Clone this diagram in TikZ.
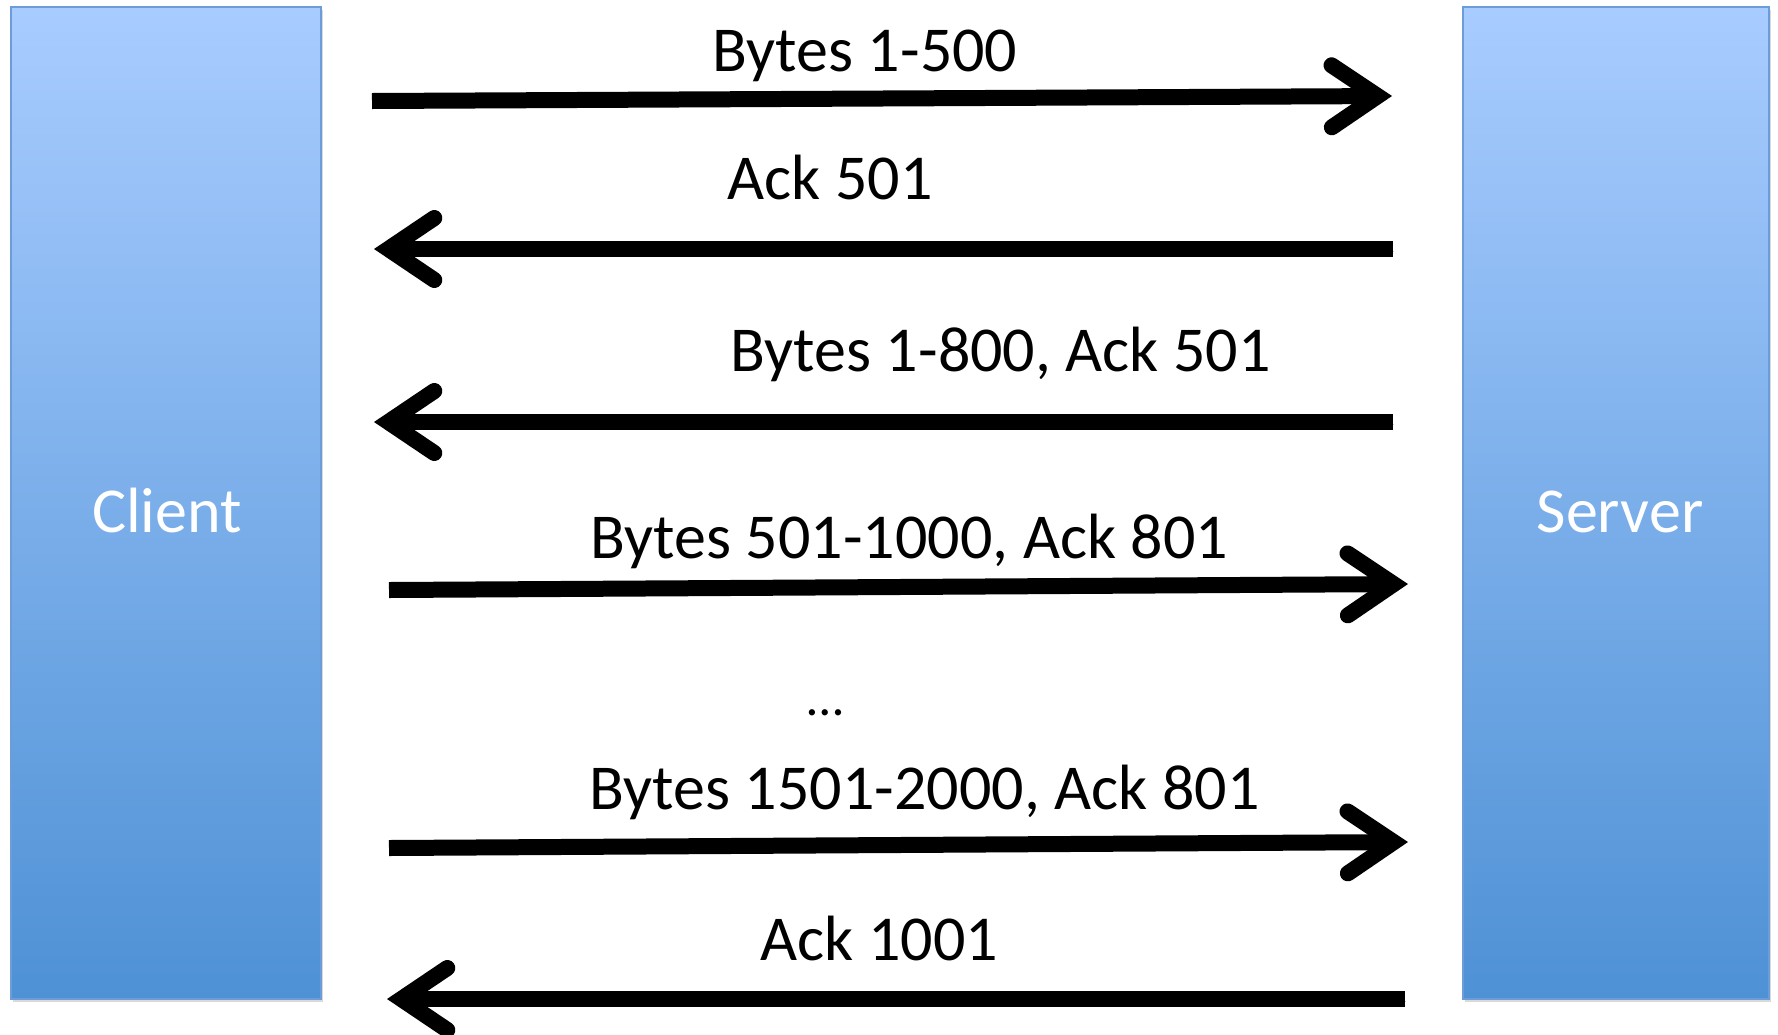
\documentclass[tikz,border=0pt]{standalone}
\usepackage{fontspec}
\setmainfont{Carlito}
\usetikzlibrary{arrows.meta,shadows}

\definecolor{boxtop}{HTML}{A8CCFF}
\definecolor{boxbottom}{HTML}{4E91D5}
\definecolor{boxedge}{HTML}{6C9DD8}

\tikzset{
  host/.style={rectangle, draw=boxedge, line width=1pt, inner sep=0pt,
    top color=boxtop, bottom color=boxbottom,
    drop shadow={shadow xshift=1pt, shadow yshift=-1.5pt, opacity=0.3}},
  hostname/.style={anchor=base, inner sep=0pt, text=white,
    font=\fontsize{32}{38}\selectfont},
  msg/.style={line width=8pt, black,
    -{Straight Barb[length=23pt, width=31pt, line cap=round, line join=miter]},
    preaction={draw=black, opacity=0.22,
      transform canvas={xshift=0.5pt, yshift=-1.2pt}}},
  msglabel/.style={anchor=base west, inner sep=0pt,
    font=\fontsize{32}{38}\selectfont}
}

\begin{document}
\begin{tikzpicture}[x=0.5pt, y=-0.5pt]
  \useasboundingbox (0,0) rectangle (1778,1034);

  % client and server columns
  \node[host, minimum width=155pt, minimum height=496pt] (client) at (166,503) {};
  \node[host, minimum width=153pt, minimum height=496pt] (server) at (1616,503) {};
  \node[hostname] (clientname) at (167,532) {Client};
  \node[hostname] (servername) at (1620,532) {Server};

  % end points of the message arrows
  \coordinate (m1a) at (372,101);  \coordinate (m1b) at (1392,96);
  \coordinate (m2a) at (1393,249); \coordinate (m2b) at (374,249);
  \coordinate (m3a) at (1393,422); \coordinate (m3b) at (374,422);
  \coordinate (m4a) at (389,590);  \coordinate (m4b) at (1408,584);
  \coordinate (m5a) at (389,848);  \coordinate (m5b) at (1408,842);
  \coordinate (m6a) at (1405,999); \coordinate (m6b) at (387,999);

  \draw[msg] (m1a) -- (m1b);
  \draw[msg] (m2a) -- (m2b);
  \draw[msg] (m3a) -- (m3b);
  \draw[msg] (m4a) -- (m4b);
  \draw[msg] (m5a) -- (m5b);
  \draw[msg] (m6a) -- (m6b);

  % message labels
  \node[msglabel] (l1) at (712,71)  {Bytes 1-500};
  \node[msglabel] (l2) at (727,199) {Ack 501};
  \node[msglabel] (l3) at (730,371) {Bytes 1-800, Ack 501};
  \node[msglabel] (l4) at (590,558) {Bytes 501-1000, Ack 801};
  \node[msglabel, font=\fontsize{26}{30}\selectfont] (l5) at (807,715) {…};
  \node[msglabel] (l6) at (589,809) {Bytes 1501-2000, Ack 801};
  \node[msglabel] (l7) at (760,960) {Ack 1001};
\end{tikzpicture}
\end{document}
